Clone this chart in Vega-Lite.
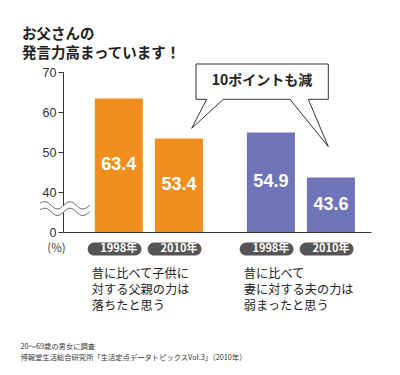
{
  "$schema": "https://vega.github.io/schema/vega-lite/v6.json",
  "width": 308,
  "height": 160,
  "autosize": {"type": "none"},
  "padding": {"left": 63, "top": 72, "right": 29, "bottom": 143},
  "background": "white",
  "config": {"view": {"stroke": null}, "font": "Noto Sans CJK JP"},
  "title": {
    "text": ["お父さんの", "発言力高まっています！"],
    "anchor": "start",
    "frame": "group",
    "dx": -41,
    "dy": 5,
    "offset": 5.5,
    "font": "Noto Sans CJK JP",
    "fontSize": 14.5,
    "fontWeight": "bold",
    "color": "#222",
    "lineHeight": 19
  },
  "datasets": {
    "bars": [
      {"group": "父親", "year": "1998年", "value": 63.4},
      {"group": "父親", "year": "2010年", "value": 53.4},
      {"group": "夫", "year": "1998年", "value": 54.9},
      {"group": "夫", "year": "2010年", "value": 43.6}
    ],
    "groups": [
      {"group": "父親", "label": "昔に比べて子供に\n対する父親の力は\n落ちたと思う"},
      {"group": "夫", "label": "昔に比べて\n妻に対する夫の力は\n弱まったと思う"}
    ],
    "note": [{"text": "10ポイントも減"}]
  },
  "resolve": {"scale": {"y": "independent"}},
  "layer": [
    {
      "layer": [
        {
          "data": {"name": "bars"},
          "mark": {"type": "bar"},
          "encoding": {
            "x": {
              "field": "group", "type": "nominal",
              "scale": {"domain": ["父親", "夫"], "paddingInner": 0.21, "paddingOuter": 0.118, "align": 0.72},
              "axis": {
                "labels": false, "ticks": false, "grid": false,
                "domainColor": "#333", "domainWidth": 1,
                "title": ["20～69歳の男女に調査", "博報堂生活総合研究所「生活定点データトピックスVol.3」（2010年）"],
                "titleX": -43, "titleY": 114, "titleAlign": "left", "titleBaseline": "middle",
                "titleFont": "Noto Sans CJK JP", "titleFontSize": 7.3, "titleFontWeight": "normal",
                "titleColor": "#333", "titleLineHeight": 11
              }
            },
            "xOffset": {"field": "year", "type": "nominal", "scale": {"domain": ["1998年", "2010年"], "paddingInner": 0.2, "paddingOuter": 0.1}},
            "y": {
              "field": "value", "type": "quantitative",
              "scale": {"domain": [30, 70], "nice": false, "zero": false},
              "axis": {
                "values": [30, 40, 50, 60, 70],
                "tickCount": 10,
                "labelExpr": "datum.value == 30 ? '0' : datum.label",
                "labelOverlap": false,
                "grid": false, "tickSize": 5, "tickColor": "#333", "domainColor": "#333",
                "labelColor": "#333", "labelFont": "Liberation Sans", "labelFontSize": 12.5, "labelPadding": 2,
                "title": "(%)", "titleAngle": 0, "titleX": -7, "titleY": 176, "titleAlign": "center", "titleBaseline": "middle",
                "titleFont": "Noto Sans CJK JP", "titleFontSize": 11.5, "titleFontWeight": "normal", "titleColor": "#444"
              }
            },
            "y2": {"datum": 30},
            "color": {"field": "group", "type": "nominal", "scale": {"domain": ["父親", "夫"], "range": ["#F08E1E", "#6F74B8"]}, "legend": null}
          }
        },
        {
          "data": {"name": "bars"},
          "mark": {"type": "bar", "cornerRadius": 7, "color": "#555", "width": {"band": 1.12}},
          "encoding": {
            "x": {"field": "group", "type": "nominal"},
            "xOffset": {"field": "year", "type": "nominal"},
            "y": {"datum": 27.4},
            "y2": {"datum": 24.1}
          }
        },
        {
          "data": {"name": "bars"},
          "mark": {"type": "text", "fill": "white", "fontWeight": "bold", "font": "Noto Sans CJK JP", "fontSize": 11, "baseline": "middle", "align": "center"},
          "encoding": {
            "x": {"field": "group", "type": "nominal"},
            "xOffset": {"field": "year", "type": "nominal"},
            "y": {"datum": 25.75},
            "text": {"field": "year", "type": "nominal"}
          }
        },
        {
          "data": {"name": "groups"},
          "mark": {"type": "text", "fill": "#222", "font": "Noto Sans CJK JP", "fontSize": 12.2, "lineHeight": 16, "lineBreak": "\n", "baseline": "middle", "align": "left", "dx": 3},
          "encoding": {
            "x": {"field": "group", "type": "nominal", "bandPosition": 0},
            "y": {"datum": 19.5},
            "text": {"field": "label", "type": "nominal"}
          }
        },
        {
          "data": {"name": "note"},
          "mark": {"type": "point", "shape": "M-177,51.3C-175.5,50.2,-173.5,49.7,-172,49.7C-167.5,49.7,-164,57,-159.5,57C-155,57,-151.5,49.7,-147,49.7C-142.5,49.7,-139,57,-134.5,57C-131.5,57,-129,55,-127,53L-127,59.5C-129,61.5,-131.5,63.5,-134.5,63.5C-139,63.5,-142.5,56.2,-147,56.2C-151.5,56.2,-155,63.5,-159.5,63.5C-164,63.5,-167.5,56.2,-172,56.2C-173.5,56.2,-175.5,56.7,-177,57.8Z", "size": 4, "filled": true, "fill": "white", "strokeWidth": 0, "opacity": 1}
        },
        {
          "data": {"name": "note"},
          "mark": {"type": "point", "shape": "M-177,51.3C-175.5,50.2,-173.5,49.7,-172,49.7C-167.5,49.7,-164,57,-159.5,57C-155,57,-151.5,49.7,-147,49.7C-142.5,49.7,-139,57,-134.5,57C-131.5,57,-129,55,-127,53M-177,57.8C-175.5,56.7,-173.5,56.2,-172,56.2C-167.5,56.2,-164,63.5,-159.5,63.5C-155,63.5,-151.5,56.2,-147,56.2C-142.5,56.2,-139,63.5,-134.5,63.5C-131.5,63.5,-129,61.5,-127,59.5", "size": 4, "filled": false, "stroke": "#666", "strokeWidth": 1, "opacity": 1}
        },
        {
          "data": {"name": "note"},
          "mark": {"type": "point", "shape": "M-21,-88L111.3,-88L111.3,-52.7L91.3,-52.7L111.3,-5.3L73,-52.7L6.3,-52.7L-25.3,-23.7L-10.3,-52.7L-21,-52.7Z", "size": 4, "filled": true, "fill": "white", "stroke": "#333", "strokeWidth": 1, "opacity": 1}
        },
        {
          "data": {"name": "note"},
          "mark": {"type": "text", "fill": "#222", "font": "Noto Sans CJK JP", "fontWeight": "bold", "fontSize": 14, "align": "center", "baseline": "middle", "dx": 45, "dy": -71},
          "encoding": {
            "text": {"field": "text", "type": "nominal"}
          }
        }
      ]
    },
    {
      "data": {"name": "bars"},
      "mark": {"type": "text", "fill": "white", "fontWeight": "bold", "font": "Liberation Sans", "fontSize": 18, "baseline": "middle", "align": "center"},
      "encoding": {
        "x": {"field": "group", "type": "nominal"},
        "xOffset": {"field": "year", "type": "nominal"},
        "y": {"field": "value", "type": "quantitative", "scale": {"domain": [30, 110], "nice": false, "zero": false}, "axis": null},
        "text": {"field": "value", "type": "quantitative", "format": ".1f"}
      }
    }
  ]
}
